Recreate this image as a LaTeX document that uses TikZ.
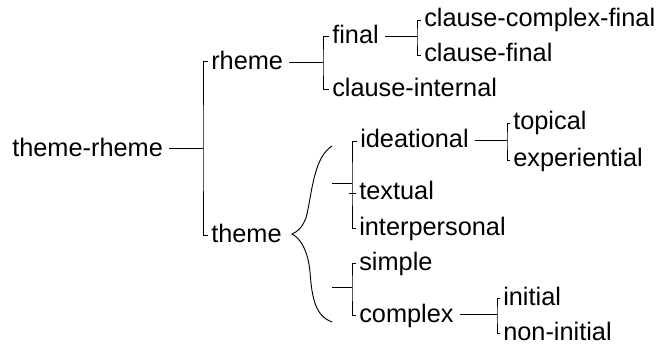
\documentclass[tikz,border=0pt]{standalone}
\usepackage{fontspec}
\setmainfont{Liberation Sans}
\newcommand\lbfont{\fontsize{19}{22}\selectfont}
\tikzset{
  lbl/.style={anchor=base west, inner sep=0pt, font=\lbfont},
  ln/.style={line width=0.7pt}
}
\begin{document}
\begin{tikzpicture}[x=0.75pt,y=-0.75pt]
\useasboundingbox (0,0) rectangle (656,345);
% labels
\node[lbl] (trh) at (12,157) {theme-rheme};
\node[lbl] (rheme) at (211,70) {rheme};
\node[lbl] (theme) at (211,243) {theme};
\node[lbl] (final) at (332,44) {final};
\node[lbl] (cint) at (332,97) {clause-internal};
\node[lbl] (ccf) at (424,27) {clause-complex-final};
\node[lbl] (cf) at (424,62) {clause-final};
\node[lbl] (idea) at (360,148) {ideational};
\node[lbl] (text) at (359,200) {textual};
\node[lbl] (inter) at (359,235) {interpersonal};
\node[lbl] (top) at (513,130) {topical};
\node[lbl] (exp) at (513,167) {experiential};
\node[lbl] (simp) at (359,270) {simple};
\node[lbl] (comp) at (359,322) {complex};
\node[lbl] (init) at (503,305) {initial};
\node[lbl] (noni) at (503,340) {non-initial};
% junctions
\coordinate (j1) at (203,148);
\coordinate (j2) at (323,62);
\coordinate (j3) at (417,36);
\coordinate (j4) at (352,183);
\coordinate (j5) at (507,140);
\coordinate (j6) at (352,287);
\coordinate (j7) at (497,314);
\coordinate (bt) at (332,146);
\coordinate (bb) at (332,322);
\coordinate (tip) at (292,234);
\coordinate (bm1) at (332,183);
\coordinate (bm2) at (332,287);
% theme-rheme
\draw[ln] ([shift={(6,-9)}]trh.base east) -- (j1);
\draw[ln] ([shift={(-3,-9)}]rheme.base west) -| (j1) |- ([shift={(-3,-8)}]theme.base west);
% rheme
\draw[ln] ([shift={(6,-8)}]rheme.base east) -- (j2);
\draw[ln] ([shift={(-3,-8)}]final.base west) -| (j2) |- ([shift={(-3,-8)}]cint.base west);
% final
\draw[ln] ([shift={(6,-8)}]final.base east) -- (j3);
\draw[ln] ([shift={(-3,-7)}]ccf.base west) -| (j3) |- ([shift={(-3,-7)}]cf.base west);
% brace
\draw[ln] (bt) .. controls (313,158) and (312,195) .. (306,218)
  .. controls (302,228) and (297,232) .. (tip)
  .. controls (300,238) and (308,250) .. (310,272)
  .. controls (312,300) and (316,316) .. (bb);
% ideational group
\draw[ln] (bm1) -- (j4);
\draw[ln] ([shift={(-3,-7)}]idea.base west) -| (j4) |- ([shift={(-3,-7)}]inter.base west);
\draw[ln] ([shift={(-3,-7)}]text.base west) -- ([shift={(-3,-7)}]text.base west -| j4);
% ideational -> topical/experiential
\draw[ln] ([shift={(6,-8)}]idea.base east) -- (j5);
\draw[ln] ([shift={(-3,-7)}]top.base west) -| (j5) |- ([shift={(-3,-7)}]exp.base west);
% simple/complex
\draw[ln] (bm2) -- (j6);
\draw[ln] ([shift={(-3,-7)}]simp.base west) -| (j6) |- ([shift={(-3,-7)}]comp.base west);
% complex -> initial/non-initial
\draw[ln] ([shift={(6,-8)}]comp.base east) -- (j7);
\draw[ln] ([shift={(-3,-7)}]init.base west) -| (j7) |- ([shift={(-3,-7)}]noni.base west);
\end{tikzpicture}
\end{document}
